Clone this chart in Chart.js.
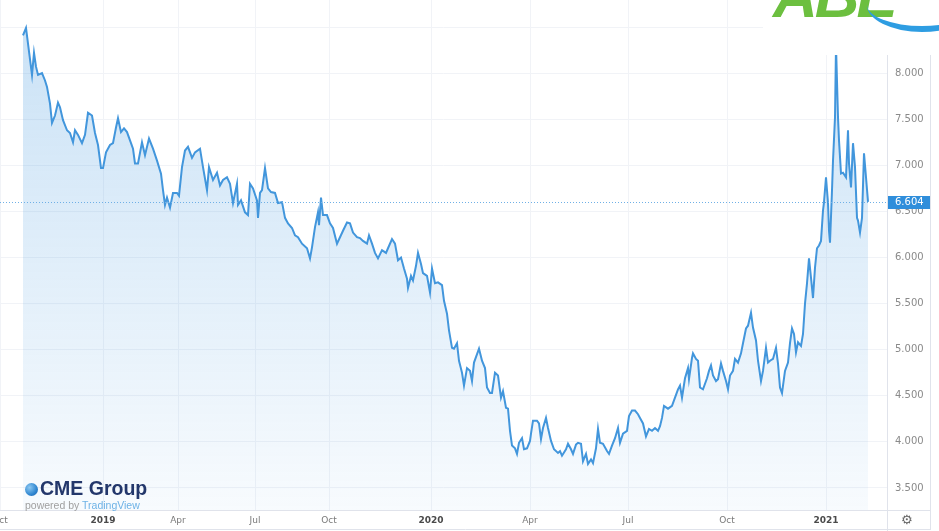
<!DOCTYPE html>
<html>
<head>
<meta charset="utf-8">
<script src="https://cdn.jsdelivr.net/npm/chart.js@4.4.1/dist/chart.umd.min.js"></script>
<style>
  body { margin: 0; background: #fff; }
  #wrap { position: relative; width: 939px; height: 531px; overflow: hidden; background: #fff; }
  #logoBox { position: absolute; left: 763px; top: 0; width: 176px; height: 55px; background: #fff; overflow: hidden; }
  #logoText { position: absolute; left: 10px; top: -40px; font: italic bold 62px "Liberation Sans", Arial, sans-serif; color: #6cbf3f; letter-spacing: -3px; }
  #swoosh { position: absolute; left: 104px; top: -22px; width: 110px; height: 48px; border-radius: 50%; border-bottom: 6px solid #2e9de2; }
  #cme { position: absolute; left: 25px; top: 479px; }
  #globe { position: absolute; left: 0; top: 4px; width: 13px; height: 13px; border-radius: 50%;
           background: radial-gradient(circle at 35% 35%, #8cc8f2, #2f86d0 60%, #1b5ea6); }
  #cmeText { position: absolute; left: 15px; top: -2px; font: bold 19.5px "Liberation Sans", Arial, sans-serif; color: #23376b; white-space: nowrap; }
  #powered { position: absolute; left: 0; top: 20px; font: 10.5px "Liberation Sans", Arial, sans-serif; color: #a0a0a0; white-space: nowrap; }
  #powered span { color: #6db2e6; }
  #gear { position: absolute; left: 901px; top: 512px; font: 13px "DejaVu Sans", sans-serif; color: #666; }
</style>
</head>
<body>
<div id="wrap">
  <canvas id="priceChart" width="939" height="531"></canvas>
  <div id="logoBox"><div id="logoText">ABE</div><div id="swoosh"></div></div>
  <div id="cme"><div id="globe"></div><div id="cmeText">CME Group</div><div id="powered">powered by <span>TradingView</span></div></div>
  <div id="gear">⚙</div>
</div>
<script>
// bar index of each sample and the settle price
const bars = [
  0, 3, 9, 11, 13, 15, 19, 22, 24, 27,
  29, 32, 35, 37, 40, 44, 47, 50, 52, 55,
  59, 62, 65, 69, 72, 75, 78, 80, 83, 87,
  90, 93, 95, 98, 101, 104, 108, 110, 112, 115,
  119, 122, 126, 130, 134, 138, 140, 142, 144, 147,
  150, 154, 156, 159, 162, 165, 169, 172, 177, 180,
  184, 186, 190, 194, 197, 200, 204, 207, 210, 214,
  215, 218, 222, 225, 227, 230, 234, 235, 237, 239,
  242, 245, 248, 252, 255, 259, 262, 265, 269, 272,
  275, 279, 284, 287, 289, 292, 295, 296, 298, 300,
  304, 307, 310, 314, 317, 320, 324, 327, 330, 334,
  337, 340, 344, 346, 349, 352, 355, 359, 363, 365,
  369, 372, 375, 378, 381, 384, 385, 388, 390, 393,
  395, 398, 400, 404, 407, 409, 412, 415, 419, 421,
  424, 426, 429, 431, 434, 436, 439, 441, 444, 447,
  449, 451, 456, 459, 462, 464, 467, 469, 472, 475,
  478, 480, 483, 485, 487, 489, 492, 494, 496, 499,
  501, 504, 507, 508, 510, 514, 516, 518, 520, 523,
  525, 528, 531, 535, 537, 539, 543, 545, 548, 550,
  553, 555, 558, 560, 563, 565, 568, 570, 573, 575,
  577, 580, 584, 586, 589, 592, 595, 597, 600, 604,
  606, 609, 612, 615, 617, 620, 623, 626, 629, 632,
  635, 637, 639, 641, 645, 649, 652, 655, 657, 659,
  662, 665, 666, 669, 670, 673, 675, 677, 680, 684,
  686, 688, 690, 693, 695, 698, 700, 703, 705, 707,
  710, 712, 715, 718, 720, 723, 725, 728, 730, 733,
  735, 738, 740, 743, 745, 747, 750, 753, 755, 757,
  759, 762, 765, 767, 769, 771, 773, 775, 778, 780,
  782, 784, 786, 788, 790, 792, 794, 796, 798, 800,
  801, 803, 805, 806, 807, 809, 810, 812, 813, 815,
  816, 818, 820, 823, 825, 826, 828, 830, 832, 834,
  835, 837, 839, 841, 843, 845
];
const prices = [
  8.41, 8.49, 7.98, 8.22, 8.07, 7.98, 8.00, 7.92, 7.85, 7.67,
  7.46, 7.54, 7.68, 7.63, 7.49, 7.38, 7.35, 7.25, 7.38, 7.33,
  7.24, 7.33, 7.57, 7.54, 7.35, 7.22, 6.97, 6.97, 7.14, 7.22,
  7.24, 7.41, 7.51, 7.36, 7.40, 7.36, 7.24, 7.18, 7.02, 7.02,
  7.25, 7.11, 7.29, 7.18, 7.05, 6.91, 6.73, 6.57, 6.65, 6.54,
  6.70, 6.70, 6.67, 6.98, 7.16, 7.20, 7.08, 7.14, 7.18, 6.98,
  6.73, 6.98, 6.84, 6.92, 6.78, 6.84, 6.87, 6.80, 6.59, 6.80,
  6.57, 6.62, 6.49, 6.46, 6.80, 6.75, 6.62, 6.43, 6.70, 6.73,
  6.97, 6.75, 6.71, 6.70, 6.59, 6.60, 6.43, 6.37, 6.32, 6.24,
  6.22, 6.15, 6.10, 5.99, 6.11, 6.33, 6.49, 6.35, 6.65, 6.46,
  6.46, 6.37, 6.32, 6.15, 6.22, 6.29, 6.38, 6.37, 6.27, 6.22,
  6.21, 6.18, 6.15, 6.24, 6.15, 6.05, 5.99, 6.08, 6.05, 6.10,
  6.20, 6.15, 5.97, 6.00, 5.88, 5.77, 5.67, 5.80, 5.75, 5.91,
  6.05, 5.93, 5.83, 5.80, 5.62, 5.88, 5.72, 5.73, 5.70, 5.53,
  5.39, 5.21, 5.02, 5.01, 5.07, 4.88, 4.75, 4.61, 4.80, 4.77,
  4.66, 4.86, 5.01, 4.88, 4.80, 4.59, 4.53, 4.53, 4.75, 4.72,
  4.48, 4.55, 4.37, 4.36, 4.12, 3.96, 3.93, 3.87, 3.99, 4.04,
  3.92, 3.93, 4.01, 4.09, 4.23, 4.23, 4.20, 4.03, 4.15, 4.26,
  4.15, 4.01, 3.92, 3.88, 3.90, 3.85, 3.92, 3.98, 3.92, 3.87,
  3.97, 3.99, 3.98, 3.79, 3.87, 3.76, 3.81, 3.77, 3.93, 4.14,
  3.99, 3.98, 3.90, 3.87, 3.96, 4.04, 4.15, 3.99, 4.09, 4.12,
  4.28, 4.34, 4.34, 4.30, 4.26, 4.20, 4.06, 4.14, 4.12, 4.15,
  4.12, 4.17, 4.26, 4.39, 4.36, 4.39, 4.48, 4.57, 4.61, 4.48,
  4.69, 4.80, 4.68, 4.91, 4.96, 4.90, 4.88, 4.59, 4.57, 4.69,
  4.77, 4.83, 4.72, 4.66, 4.68, 4.85, 4.77, 4.66, 4.57, 4.72,
  4.77, 4.90, 4.86, 4.96, 5.07, 5.23, 5.26, 5.40, 5.24, 5.10,
  4.88, 4.66, 4.77, 5.02, 4.86, 4.88, 4.90, 5.02, 4.85, 4.59,
  4.53, 4.77, 4.86, 5.07, 5.23, 5.17, 4.97, 5.08, 5.04, 5.17,
  5.50, 5.72, 5.99, 5.78, 5.56, 5.89, 6.10, 6.13, 6.18, 6.51,
  6.60, 6.87, 6.59, 6.29, 6.16, 6.73, 7.05, 7.52, 8.30, 7.52,
  7.27, 6.91, 6.92, 6.87, 7.38, 7.02, 6.76, 7.24, 6.98, 6.43,
  6.40, 6.27, 6.43, 7.13, 6.87, 6.604
];

// time axis: bar index where each month/year label sits
const xTickBars = [-23, 80, 155, 232, 306, 408, 507, 605, 704, 803];
const xTickLabels = ['Oct', '2019', 'Apr', 'Jul', 'Oct', '2020', 'Apr', 'Jul', 'Oct', '2021'];
const yTicks = [3.5, 4.0, 4.5, 5.0, 5.5, 6.0, 6.5, 7.0, 7.5, 8.0, 8.5];

const lastPrice = prices[prices.length - 1];
const lineColor = '#4296dc';
const frameColor = '#e0e3eb';

// dotted last-price line + blue price tag on the axis
const lastPricePlugin = {
  id: 'lastPrice',
  afterDatasetsDraw(chart) {
    const { ctx, chartArea, scales } = chart;
    const y = Math.round(scales.y.getPixelForValue(lastPrice)) + 0.5;
    ctx.save();
    ctx.strokeStyle = '#6fb0e6';
    ctx.lineWidth = 1;
    ctx.setLineDash([1, 2]);
    ctx.beginPath();
    ctx.moveTo(chartArea.left, y);
    ctx.lineTo(chartArea.right, y);
    ctx.stroke();
    ctx.restore();
  },
  afterDraw(chart) {
    const { ctx, chartArea, scales } = chart;
    const y = Math.round(scales.y.getPixelForValue(lastPrice));
    ctx.save();
    // outer frame of the widget
    ctx.strokeStyle = frameColor;
    ctx.lineWidth = 1;
    ctx.beginPath();
    ctx.moveTo(chartArea.right + 0.5, chartArea.bottom);
    ctx.lineTo(chartArea.right + 0.5, 531);
    ctx.moveTo(chartArea.right, chartArea.bottom + 0.5);
    ctx.lineTo(930, chartArea.bottom + 0.5);
    ctx.moveTo(930.5, 0);
    ctx.lineTo(930.5, 530);
    ctx.moveTo(0, 529.5);
    ctx.lineTo(931, 529.5);
    ctx.stroke();
    // price tag
    ctx.fillStyle = '#2f8edb';
    ctx.fillRect(chartArea.right + 1, y - 6, 42, 13);
    ctx.fillStyle = '#ffffff';
    ctx.font = '10px "DejaVu Sans"';
    ctx.textBaseline = 'middle';
    ctx.fillText(lastPrice.toFixed(3), chartArea.right + 8, y + 0.5);
    ctx.restore();
  }
};

new Chart(document.getElementById('priceChart'), {
  type: 'line',
  data: {
    datasets: [{
      label: 'Price',
      data: bars.map((b, i) => ({ x: b, y: prices[i] })),
      borderColor: lineColor,
      borderWidth: 2,
      pointRadius: 0,
      tension: 0,
      fill: 'start',
      backgroundColor: (context) => {
        const { ctx, chartArea } = context.chart;
        if (!chartArea) return 'rgba(59,147,221,0.15)';
        const g = ctx.createLinearGradient(0, chartArea.top, 0, chartArea.bottom);
        g.addColorStop(0, 'rgba(59,147,221,0.28)');
        g.addColorStop(1, 'rgba(59,147,221,0.04)');
        return g;
      }
    }]
  },
  options: {
    responsive: false,
    animation: false,
    devicePixelRatio: 1,
    layout: { padding: 0 },
    plugins: {
      legend: { display: false },
      tooltip: { enabled: false }
    },
    scales: {
      x: {
        type: 'linear',
        position: 'bottom',
        min: -23,
        max: 864,
        afterBuildTicks(scale) {
          scale.ticks = xTickBars.map(v => ({ value: v }));
        },
        afterFit(scale) {
          scale.height = 21;
          scale.paddingLeft = 0;
          scale.paddingRight = 0;
        },
        grid: { color: '#f1f3f7', drawTicks: false },
        border: { color: frameColor },
        ticks: {
          autoSkip: false,
          maxRotation: 0,
          padding: 5,
          callback: (v) => {
            const i = xTickBars.indexOf(v);
            return i >= 0 ? xTickLabels[i] : '';
          },
          color: (ctx) => /^\d{4}$/.test(xTickLabels[ctx.index] || '') ? '#4a4a4a' : '#7a7a7a',
          font: (ctx) => ({
            family: 'DejaVu Sans',
            size: 9,
            weight: /^\d{4}$/.test(xTickLabels[ctx.index] || '') ? 'bold' : 'normal'
          })
        }
      },
      y: {
        type: 'linear',
        position: 'right',
        min: 3.261,
        max: 8.793,
        afterBuildTicks(scale) {
          scale.ticks = yTicks.map(v => ({ value: v }));
        },
        afterFit(scale) {
          scale.width = 52;
          scale.paddingTop = 0;
          scale.paddingBottom = 0;
        },
        grid: { color: '#f1f3f7', drawTicks: false },
        border: { color: frameColor },
        ticks: {
          padding: 8,
          color: '#8a8a8a',
          font: { family: 'DejaVu Sans', size: 10 },
          callback: (v) => Number(v).toFixed(3)
        }
      }
    }
  },
  plugins: [lastPricePlugin]
});
</script>
</body>
</html>
